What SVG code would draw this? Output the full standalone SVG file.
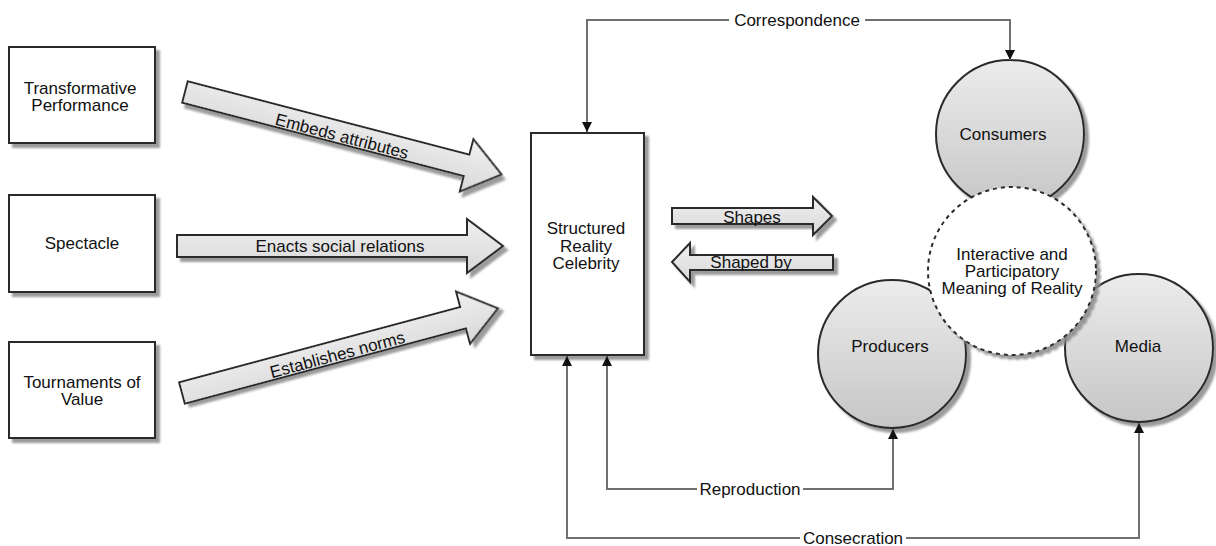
<svg xmlns="http://www.w3.org/2000/svg" width="1216" height="546" viewBox="0 0 1216 546">
<defs>
<filter id="sh" x="-20%" y="-20%" width="150%" height="150%">
<feDropShadow dx="4" dy="4" stdDeviation="1" flood-color="#8a8a8a" flood-opacity="0.85"/>
</filter>
<linearGradient id="gArrow" x1="0" y1="0" x2="0" y2="1">
<stop offset="0" stop-color="#f0f0f0"/><stop offset="1" stop-color="#d8d8d8"/>
</linearGradient>
<linearGradient id="gCircle" x1="0" y1="0" x2="0" y2="1">
<stop offset="0" stop-color="#ececec"/><stop offset="1" stop-color="#c6c6c6"/>
</linearGradient>
<marker id="ah" viewBox="0 0 10 10" refX="10" refY="5" markerWidth="10" markerHeight="10" markerUnits="userSpaceOnUse" orient="auto">
<path d="M0,0 L10,5 L0,10 z" fill="#111"/>
</marker>
<polygon id="bigArrow" points="0,-11 291,-11 291,-27 327,0 291,27 291,11 0,11"/>
</defs>
<style>
text{font-family:"Liberation Sans",Arial,sans-serif;font-size:17px;fill:#111;text-anchor:middle}
.box{fill:#fff;stroke:#2a2a2a;stroke-width:2;filter:url(#sh)}
.circ{fill:url(#gCircle);stroke:#2a2a2a;stroke-width:2;filter:url(#sh)}
.dash{fill:#fff;stroke:#2a2a2a;stroke-width:2;stroke-dasharray:4 4;filter:url(#sh)}
.barrow{fill:url(#gArrow);stroke:#2a2a2a;stroke-width:2;stroke-linejoin:miter;filter:url(#sh)}
.conn{fill:none;stroke:#707070;stroke-width:2;marker-end:url(#ah)}
</style>
<rect width="1216" height="546" fill="#fff"/>

<g id="node-transformative">
<rect class="box" x="9" y="47" width="146" height="96"/>
<text x="80" y="94">Transformative</text>
<text x="80" y="111">Performance</text>
</g>
<g id="node-spectacle">
<rect class="box" x="9" y="195" width="146" height="97"/>
<text x="82" y="249">Spectacle</text>
</g>
<g id="node-tournaments">
<rect class="box" x="9" y="342" width="146" height="96"/>
<text x="82" y="388">Tournaments of</text>
<text x="82" y="405">Value</text>
</g>
<g id="node-celebrity">
<rect class="box" x="531" y="133" width="113" height="222"/>
<text x="586" y="234">Structured</text>
<text x="586" y="252">Reality</text>
<text x="586" y="269">Celebrity</text>
</g>

<g id="node-consumers">
<circle class="circ" cx="1010" cy="134" r="74"/>
<text x="1003" y="140">Consumers</text>
</g>
<g id="node-producers">
<circle class="circ" cx="892" cy="354" r="74"/>
<text x="890" y="352">Producers</text>
</g>
<g id="node-media">
<circle class="circ" cx="1139" cy="348" r="74"/>
<text x="1138" y="352">Media</text>
</g>
<g id="node-meaning">
<circle class="dash" cx="1012" cy="271" r="84"/>
<text x="1012" y="260">Interactive and</text>
<text x="1012" y="277">Participatory</text>
<text x="1012" y="294">Meaning of Reality</text>
</g>

<g id="connectors">
<g id="arrow-embeds" transform="translate(185,92) rotate(14.6)">
<use href="#bigArrow" class="barrow"/>
<text x="163" y="9">Embeds attributes</text>
</g>
<g id="arrow-enacts" transform="translate(177,246)">
<polygon class="barrow" points="0,-11 290,-11 290,-27 326,0 290,27 290,11 0,11"/>
<text x="163" y="6">Enacts social relations</text>
</g>
<g id="arrow-establishes" transform="translate(182,393) rotate(-15)">
<use href="#bigArrow" class="barrow"/>
<text x="160" y="9">Establishes norms</text>
</g>
<g id="arrow-shapes">
<polygon class="barrow" points="672,208 813,208 813,197 832,216 813,235 813,224 672,224"/>
<text x="752" y="223">Shapes</text>
</g>
<g id="arrow-shapedby">
<polygon class="barrow" points="833,255 690,255 690,243 672,262 690,282 690,270 833,270"/>
<text x="751" y="268">Shaped by</text>
</g>

<path class="conn" d="M729,20 H587 V132"/>
<path class="conn" d="M865,20 H1010 V60"/>
<text x="797" y="26">Correspondence</text>

<path class="conn" d="M697,489 H607 V356"/>
<path class="conn" d="M803,489 H893 V429"/>
<text x="750" y="495">Reproduction</text>

<path class="conn" d="M800,538 H567 V356"/>
<path class="conn" d="M906,538 H1139 V423"/>
<text x="853" y="544">Consecration</text>
</g>
</svg>
